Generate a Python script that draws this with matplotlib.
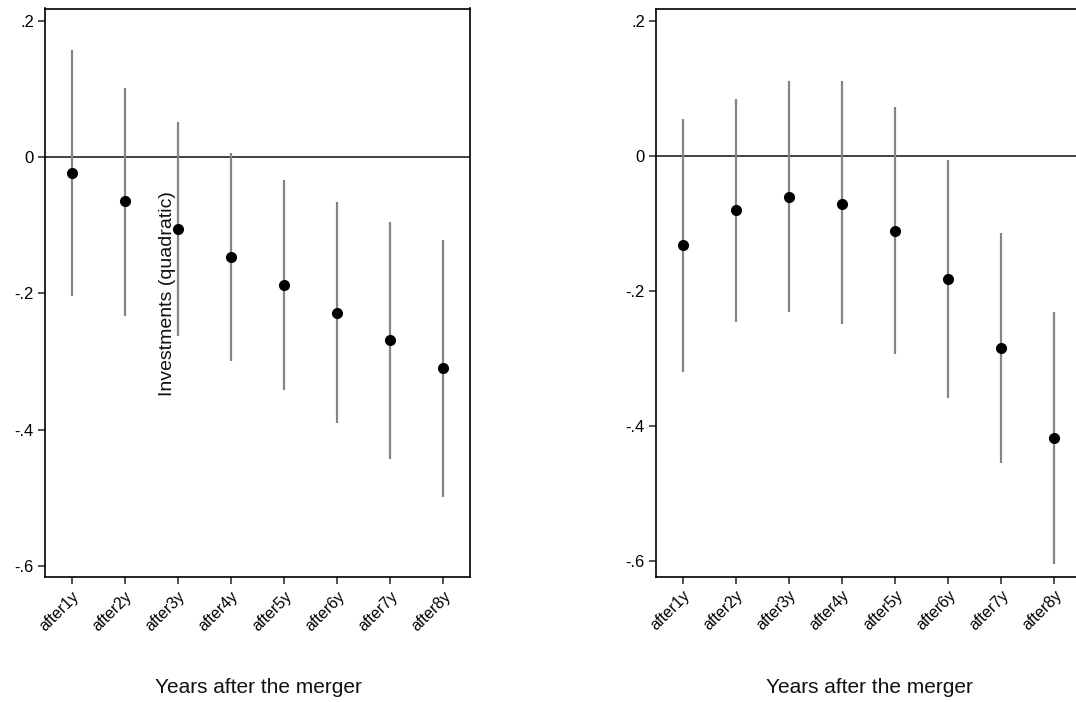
import numpy as np
import matplotlib
matplotlib.use("Agg")
import matplotlib.pyplot as plt

plt.rcParams['font.family'] = ['Liberation Sans', 'DejaVu Sans']

# coefficient estimates and 95% bounds, by year after the merger
periods = ["after1y", "after2y", "after3y", "after4y",
           "after5y", "after6y", "after7y", "after8y"]

left_est = [-0.023, -0.064, -0.105, -0.147, -0.188, -0.228, -0.269, -0.309]
left_lo = [-0.204, -0.233, -0.262, -0.299, -0.341, -0.390, -0.443, -0.499]
left_hi = [0.157, 0.102, 0.052, 0.006, -0.033, -0.066, -0.095, -0.121]

right_est = [-0.133, -0.081, -0.061, -0.071, -0.111, -0.183, -0.285, -0.418]
right_lo = [-0.320, -0.246, -0.231, -0.250, -0.294, -0.359, -0.456, -0.605]
right_hi = [0.054, 0.084, 0.111, 0.111, 0.072, -0.006, -0.115, -0.231]

yticks = [0.2, 0, -0.2, -0.4, -0.6]
yticklabels = [".2", "0", "-.2", "-.4", "-.6"]

W, H = 1076, 702
fig = plt.figure(figsize=(W / 100, H / 100), dpi=100)

# axes boxes in pixels: left, top, right, bottom
ax1 = fig.add_axes([45 / W, 1 - 577.3 / H, 425 / W, (577.3 - 8.5) / H])
ax2 = fig.add_axes([656 / W, 1 - 576.7 / H, 425 / W, (576.7 - 8.5) / H])


def coef_panel(ax, est, lo, hi, ylim):
    x = np.arange(1, len(periods) + 1)
    ax.axhline(0, color='#333333', lw=1.3, zorder=1)
    ax.vlines(x, lo, hi, color='#858585', lw=1.6, zorder=2)
    ax.plot(x, est, 'o', color='black', ms=7, zorder=3)
    ax.set_xlim(0.5, 8.5)
    ax.set_ylim(*ylim)
    ax.set_xticks(x)
    ax.set_xticklabels(periods, rotation=45, ha='right', va='top',
                       rotation_mode='anchor', fontsize=11.5)
    ax.set_yticks(yticks)
    ax.set_yticklabels(yticklabels, fontsize=12)
    ax.tick_params(direction='out', length=5, width=1.1, color='#222222', pad=3)
    for s in ax.spines.values():
        s.set_linewidth(1.2)
        s.set_color('black')


coef_panel(ax1, left_est, left_lo, left_hi, (-0.6166, 0.2183))
coef_panel(ax2, right_est, right_lo, right_hi, (-0.6237, 0.218))

fig.text(258 / W, 1 - 693 / H, "Years after the merger", ha='center',
         va='baseline', fontsize=15, color='#111111')
fig.text(869 / W, 1 - 693 / H, "Years after the merger", ha='center',
         va='baseline', fontsize=15, color='#111111')
fig.text(168 / W, 1 - 293.5 / H, "Investments (quadratic)", rotation=90,
         ha='center', va='center', fontsize=14, color='#111111')

fig.savefig("out.png", dpi=100)
